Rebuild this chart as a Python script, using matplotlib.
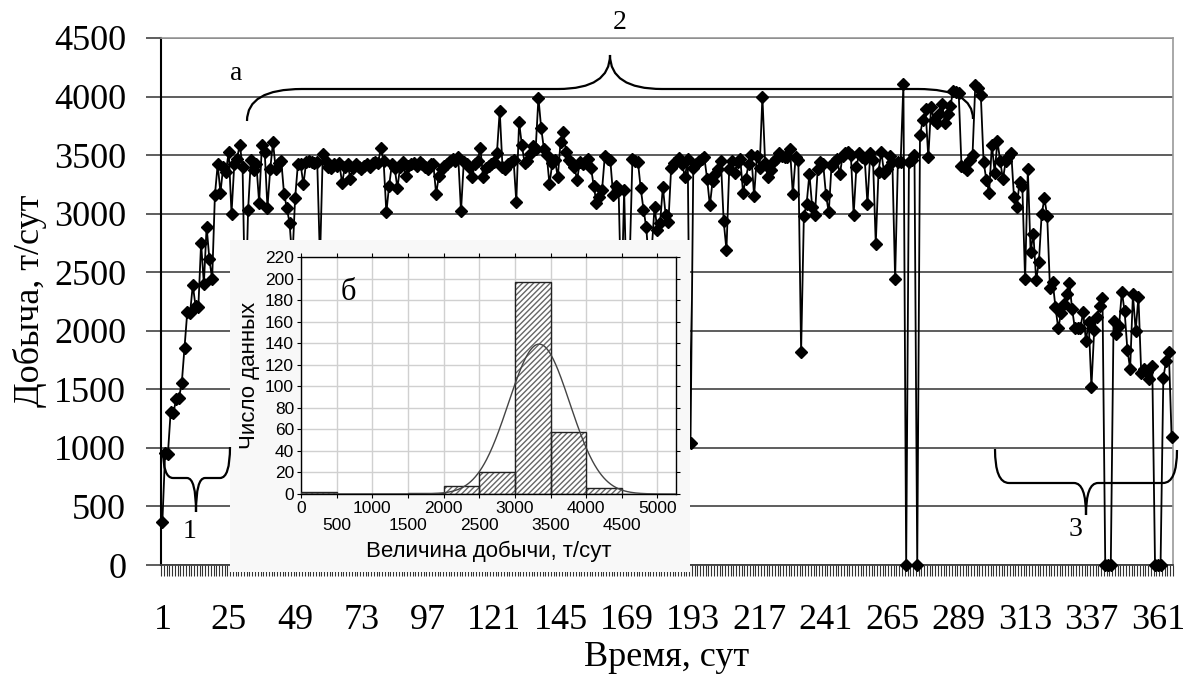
import numpy as np
import matplotlib
matplotlib.use("Agg")
import matplotlib.pyplot as plt
from matplotlib.path import Path
from matplotlib.patches import PathPatch

W, H = 1189, 691

# суточная добыча, т/сут (дни 1..366)
production = [
    370, 960, 950, 1310, 1300, 1420, 1430, 1550, 1850, 2160,
    2150, 2390, 2210, 2200, 2750, 2400, 2890, 2610, 2440, 3160,
    3420, 3180, 3400, 3360, 3530, 3000, 3420, 3470, 3590, 3400,
    2100, 3030, 3460, 3370, 3420, 3090, 3590, 3530, 3050, 3380,
    3610, 3380, 3430, 3450, 3170, 3050, 2920, 2600, 3130, 3420,
    3420, 3250, 3440, 3450, 3440, 3430, 3440, 2600, 3510, 3450,
    3400, 3390, 3420, 3410, 3430, 3260, 3400, 3420, 3300, 3390,
    3420, 3400, 3380, 3410, 3420, 3400, 3430, 3440, 3430, 3560,
    3450, 3010, 3240, 3420, 3390, 3220, 3400, 3440, 3320, 3410,
    3420, 3430, 3410, 3440, 3420, 3400, 3380, 3420, 3420, 3170,
    3320, 3380, 3410, 3420, 3450, 3470, 3450, 3480, 3020, 3440,
    3420, 3400, 3310, 3420, 3450, 3560, 3310, 3390, 3410, 3420,
    3440, 3520, 3880, 3400, 3380, 3420, 3440, 3460, 3100, 3780,
    3590, 3430, 3450, 3510, 3580, 3550, 3990, 3730, 3550, 3500,
    3250, 3430, 3460, 3310, 3610, 3700, 3530, 3460, 3430, 3400,
    3290, 3445, 3420, 3440, 3465, 3390, 3240, 3090, 3140, 3200,
    3490, 3470, 3455, 3160, 3240, 3200, 2200, 3200, 2200, 2600,
    3470, 3450, 3440, 3215, 3035, 2885, 2550, 2700, 3060, 2860,
    2920, 3230, 2990, 2925, 3390, 3430, 3450, 3475, 3420, 3310,
    3470, 1040, 3390, 3420, 3450, 3470, 3480, 3300, 3070, 3280,
    3340, 3380, 3450, 2935, 2690, 3380, 3450, 3350, 3440, 3470,
    3180, 3300, 3420, 3500, 3150, 3490, 3390, 4000, 3430, 3310,
    3370, 3445, 3470, 3520, 3490, 3485, 3480, 3550, 3165, 3480,
    3460, 1820, 2980, 3085, 3340, 3060, 2990, 3380, 3445, 3420,
    3160, 3010, 3410, 3440, 3470, 3335, 3490, 3520, 3530, 3500,
    2990, 3400, 3515, 3480, 3470, 3080, 3520, 3460, 2740, 3360,
    3530, 3350, 3380, 3490, 3445, 2440, 3440, 3440, 4110, 0,
    3445, 3460, 3500, 0, 3670, 3800, 3890, 3480, 3910, 3800,
    3770, 3850, 3940, 3770, 3850, 3920, 4050, 4040, 4030, 3410,
    3400, 3375, 3460, 3505, 4100, 4075, 4010, 3440, 3290, 3180,
    3590, 3350, 3620, 3450, 3295, 3450, 3480, 3520, 3140, 3055,
    3270, 3240, 2440, 3380, 2675, 2830, 2435, 2585, 2995, 3130,
    2980, 2365, 2415, 2200, 2020, 2150, 2230, 2315, 2410, 2190,
    2020, 2020, 2020, 2160, 1915, 2075, 1520, 2010, 2120, 2210,
    2280, 0, 0, 0, 2085, 1970, 2040, 2335, 2165, 1840,
    1675, 2310, 2000, 2290, 1640, 1670, 1650, 1590, 1700, 0,
    0, 0, 1600, 1740, 1820, 1090,
]
days = np.arange(1, len(production) + 1)
day_labels = list(range(1, 362, 24))

# гистограмма (вставка б)
hist_edges = [0, 500, 1000, 1500, 2000, 2500, 3000, 3500, 4000, 4500, 5000]
hist_counts = [2, 0, 0, 1, 7, 20, 197, 58, 6, 0]
fit_mean = 3340
fit_std = 430
fit_n = 300

serif = ['Liberation Serif', 'DejaVu Serif']
sans = ['Liberation Sans', 'DejaVu Sans']


def px(x0, y0, x1, y1):
    return [x0 / W, 1 - y1 / H, (x1 - x0) / W, (y1 - y0) / H]


fig = plt.figure(figsize=(W / 100, H / 100), dpi=100)

# основной график
ax = fig.add_axes(px(161, 38, 1173, 565))
ax.plot(days, production, color='black', lw=1.3, marker='D', ms=5.8,
        mfc='black', mec='black', zorder=3, clip_on=False)
ax.set_xlim(0.5, len(production) + 0.5)
ax.set_ylim(0, 4500)
ax.set_yticks(range(0, 4501, 500))
ax.yaxis.grid(True, color='#505050', lw=1.3)
ax.set_axisbelow(True)
ax.set_xticks(day_labels)
ax.set_xticks(np.arange(0.5, len(production) + 1, 1), minor=True)
ax.tick_params(axis='x', which='major', length=0, pad=28)
ax.tick_params(axis='x', which='minor', length=8, width=0.8, color='#333333', direction='out')
ax.tick_params(axis='y', length=11, width=1.3, color='#505050', pad=14)
for lab in ax.get_xticklabels() + ax.get_yticklabels():
    lab.set_family(serif)
    lab.set_fontsize(26)
for s in ['top', 'right']:
    ax.spines[s].set_color('#9a9a9a')
    ax.spines[s].set_linewidth(1.2)
ax.spines['left'].set_linewidth(1.5)
ax.spines['bottom'].set_linewidth(1.3)
ax.spines['bottom'].set_color('#404040')

fig.text(30 / W, 1 - 301 / H, 'Добыча, т/сут', rotation=90, ha='center', va='center',
         family=serif, fontsize=26)
fig.text(667 / W, 1 - 658 / H, 'Время, сут', ha='center', va='center',
         family=serif, fontsize=26)

# фон вставки
ax_bg = fig.add_axes(px(230, 240, 690, 572))
ax_bg.set_facecolor('#f8f8f8')
ax_bg.set_xticks([])
ax_bg.set_yticks([])
for s in ax_bg.spines.values():
    s.set_visible(False)

# вставка: гистограмма
ax_in = fig.add_axes(px(301, 257, 676, 494))
ax_in.set_facecolor('white')
ax_in.bar(hist_edges[:-1], hist_counts, width=500, align='edge', color='white',
          edgecolor='#666666', hatch='//////', lw=0, zorder=2)
ax_in.bar(hist_edges[:-1], hist_counts, width=500, align='edge', fill=False,
          edgecolor='#222222', lw=1.0, zorder=3)
xs = np.linspace(0, 5260, 500)
ys = fit_n * 500 / (fit_std * np.sqrt(2 * np.pi)) * np.exp(-(xs - fit_mean) ** 2 / (2 * fit_std ** 2))
ax_in.plot(xs, ys, color='#444444', lw=1.0, zorder=4)
ax_in.set_xlim(0, 5260)
ax_in.set_ylim(0, 220)
ax_in.set_yticks(range(0, 221, 20))
ax_in.set_xticks(hist_edges)
ax_in.set_xticklabels([str(v) if i % 2 == 0 else '\n' + str(v) for i, v in enumerate(hist_edges)])
ax_in.grid(True, color='#d0d0d0', lw=1.0, zorder=0)
ax_in.set_axisbelow(True)
ax_in.tick_params(length=3, width=0.8, pad=2, labelsize=12.5, top=True, right=True)
for lab in ax_in.get_xticklabels() + ax_in.get_yticklabels():
    lab.set_family(sans)
for s in ax_in.spines.values():
    s.set_linewidth(1.0)
ax_in.set_xlabel('Величина добычи, т/сут', family=sans, fontsize=16, labelpad=5)
ax_in.set_ylabel('Число данных', family=sans, fontsize=16, labelpad=4)
ax_in.text(660, 187, 'б', family=serif, fontsize=22, ha='center', va='center')

# фигурные скобки и подписи
ov = fig.add_axes([0, 0, 1, 1])
ov.set_xlim(0, W)
ov.set_ylim(H, 0)
ov.axis('off')


def brace(x0, y0, x1, y1, yl, xt, yt, r, rt):
    verts = [(x0, y0), (x0, yl), (x0 + r, yl),
             (xt - rt, yl), (xt, yl), (xt, yt),
             (xt, yl), (xt + rt, yl),
             (x1 - r, yl), (x1, yl), (x1, y1)]
    codes = [Path.MOVETO, Path.CURVE3, Path.CURVE3,
             Path.LINETO, Path.CURVE3, Path.CURVE3,
             Path.CURVE3, Path.CURVE3,
             Path.LINETO, Path.CURVE3, Path.CURVE3]
    ov.add_patch(PathPatch(Path(verts, codes), fill=False, lw=1.6, color='black'))


brace(247, 121, 973, 119, 89, 610, 55, 55, 52)
brace(163, 450, 230, 447, 478, 196, 512, 10, 9)
brace(995, 449, 1177, 450, 483, 1086, 515, 14, 12)

ov.text(236, 73, 'а', family=serif, fontsize=20, ha='center', va='center')
ov.text(620, 22, '2', family=serif, fontsize=20, ha='center', va='center')
ov.text(190, 532, '1', family=serif, fontsize=20, ha='center', va='center')
ov.text(1075, 530, '3', family=serif, fontsize=20, ha='center', va='center')

fig.savefig('out.png', dpi=100)
